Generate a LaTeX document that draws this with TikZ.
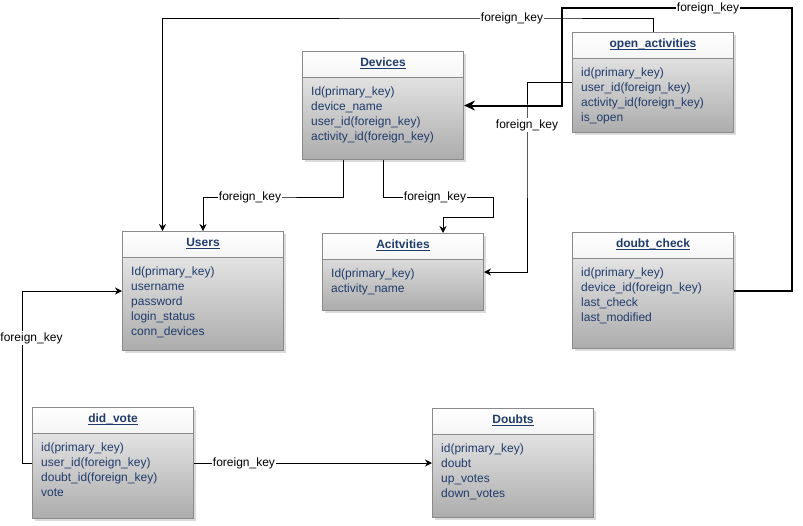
\documentclass[tikz,border=0pt]{standalone}
\usepackage{fontspec}
\setmainfont{Liberation Sans}
\usepackage{tikz}
\usetikzlibrary{arrows.meta,shadows,positioning}
\definecolor{FieldBlue}{HTML}{1F3B6B}
\definecolor{FrameGray}{HTML}{8A8A8A}
\newcommand\tabletitle[1]{\underline{\smash{#1}}}
\tikzset{
  every node/.style={
    font=\fontsize{12}{15}\selectfont
  },
  table style/.style={
    shape=rectangle,
    draw=FrameGray,
    line width=1pt,
    top color=gray!10,
    bottom color=gray!65,
    minimum width=161pt,
    inner sep=0pt,
    anchor=north west,
    drop shadow={shadow xshift=2pt,shadow yshift=-2pt,fill=gray!40,opacity=0.7}
  },
  table head/.style={
    shape=rectangle,
    draw=FrameGray,
    line width=1pt,
    top color=white,
    bottom color=gray!8,
    minimum width=161pt,
    minimum height=26pt,
    inner sep=0pt,
    text height=8pt,
    text depth=4pt,
    text=FieldBlue,
    font=\fontsize{12}{15}\selectfont\bfseries,
    anchor=north west
  },
  table fields/.style={
    align=left,
    inner sep=0pt,
    text=FieldBlue,
    anchor=north west
  },
  fk label/.style={
    fill=white,
    text=black,
    inner sep=1pt
  }
}

\begin{document}
\begin{tikzpicture}[%
    x=1pt,y=-1pt,
    fk line/.style={draw=black,line width=0.9pt,-{Stealth[length=7pt,width=7pt]}},
    fk thick/.style={draw=black,line width=2pt,-{Stealth[length=11pt,width=10pt]}}
  ]
  \useasboundingbox (0,0) rectangle (803,525);

  \node[table style,minimum height=100pt] (openact) at (572,32) {};
  \node[table head] (openact-head) at (openact.north west) {\tabletitle{open\_activities}};
  \node[table fields] (openact-fields) at ([xshift=9pt,yshift=-36pt]openact.north west) {%
    id(primary\_key)\\user\_id(foreign\_key)\\activity\_id(foreign\_key)\\is\_open};

  \node[table style,minimum height=108pt] (devices) at (302,51) {};
  \node[table head] (devices-head) at (devices.north west) {\tabletitle{Devices}};
  \node[table fields] (devices-fields) at ([xshift=9pt,yshift=-36pt]devices.north west) {%
    Id(primary\_key)\\device\_name\\user\_id(foreign\_key)\\activity\_id(foreign\_key)};

  \node[table style,minimum height=119pt] (users) at (122,231) {};
  \node[table head] (users-head) at (users.north west) {\tabletitle{Users}};
  \node[table fields] (users-fields) at ([xshift=9pt,yshift=-36pt]users.north west) {%
    Id(primary\_key)\\username\\password\\login\_status\\conn\_devices};

  \node[table style,minimum height=77pt] (activities) at (322,233) {};
  \node[table head] (activities-head) at (activities.north west) {\tabletitle{Acitvities}};
  \node[table fields] (activities-fields) at ([xshift=9pt,yshift=-36pt]activities.north west) {%
    Id(primary\_key)\\activity\_name};

  \node[table style,minimum height=116pt] (doubtcheck) at (572,232) {};
  \node[table head] (doubtcheck-head) at (doubtcheck.north west) {\tabletitle{doubt\_check}};
  \node[table fields] (doubtcheck-fields) at ([xshift=9pt,yshift=-36pt]doubtcheck.north west) {%
    id(primary\_key)\\device\_id(foreign\_key)\\last\_check\\last\_modified};

  \node[table style,minimum height=111pt] (didvote) at (32,407) {};
  \node[table head] (didvote-head) at (didvote.north west) {\tabletitle{did\_vote}};
  \node[table fields] (didvote-fields) at ([xshift=9pt,yshift=-36pt]didvote.north west) {%
    id(primary\_key)\\user\_id(foreign\_key)\\doubt\_id(foreign\_key)\\vote};

  \node[table style,minimum height=109pt] (doubts) at (432,408) {};
  \node[table head] (doubts-head) at (doubts.north west) {\tabletitle{Doubts}};
  \node[table fields] (doubts-fields) at ([xshift=9pt,yshift=-36pt]doubts.north west) {%
    id(primary\_key)\\doubt\\up\_votes\\down\_votes};

  \coordinate (fk1) at (512,18);
  \coordinate (fk2) at (708,8);
  \coordinate (fk2corner) at (792,8);
  \coordinate (fk2turn) at (562,8);
  \coordinate (fk3) at (527,125);
  \coordinate (fk4) at (250,197);
  \coordinate (fk5) at (435,197);
  \coordinate (fk5turn) at (493,217);
  \coordinate (fk6) at (22.5,338);

  \draw[fk line] (openact.north) |- (fk1) node[fk label]{foreign\_key}
    -| ([xshift=-40.5pt]users.north);
  \draw[fk thick] (doubtcheck.east) -| (fk2corner) -- (fk2) node[fk label]{foreign\_key}
    -- (fk2turn) |- (devices.east);
  \draw[fk line] (openact.west) -| (fk3) node[fk label]{foreign\_key} |- (activities.east);
  \draw[fk line] ([xshift=-40pt]devices.south) |- (fk4) node[fk label]{foreign\_key} -| (users.north);
  \draw[fk line] (devices.south) |- (fk5) node[fk label]{foreign\_key}
    -| (fk5turn) -| ([xshift=40pt]activities.north);
  \draw[fk line] (didvote.west) -| (fk6) node[fk label,xshift=9pt]{foreign\_key} |- (users.west);
  \draw[fk line] (didvote.east) -- node[fk label,pos=0.21]{foreign\_key} (doubts.west);
\end{tikzpicture}
\end{document}
